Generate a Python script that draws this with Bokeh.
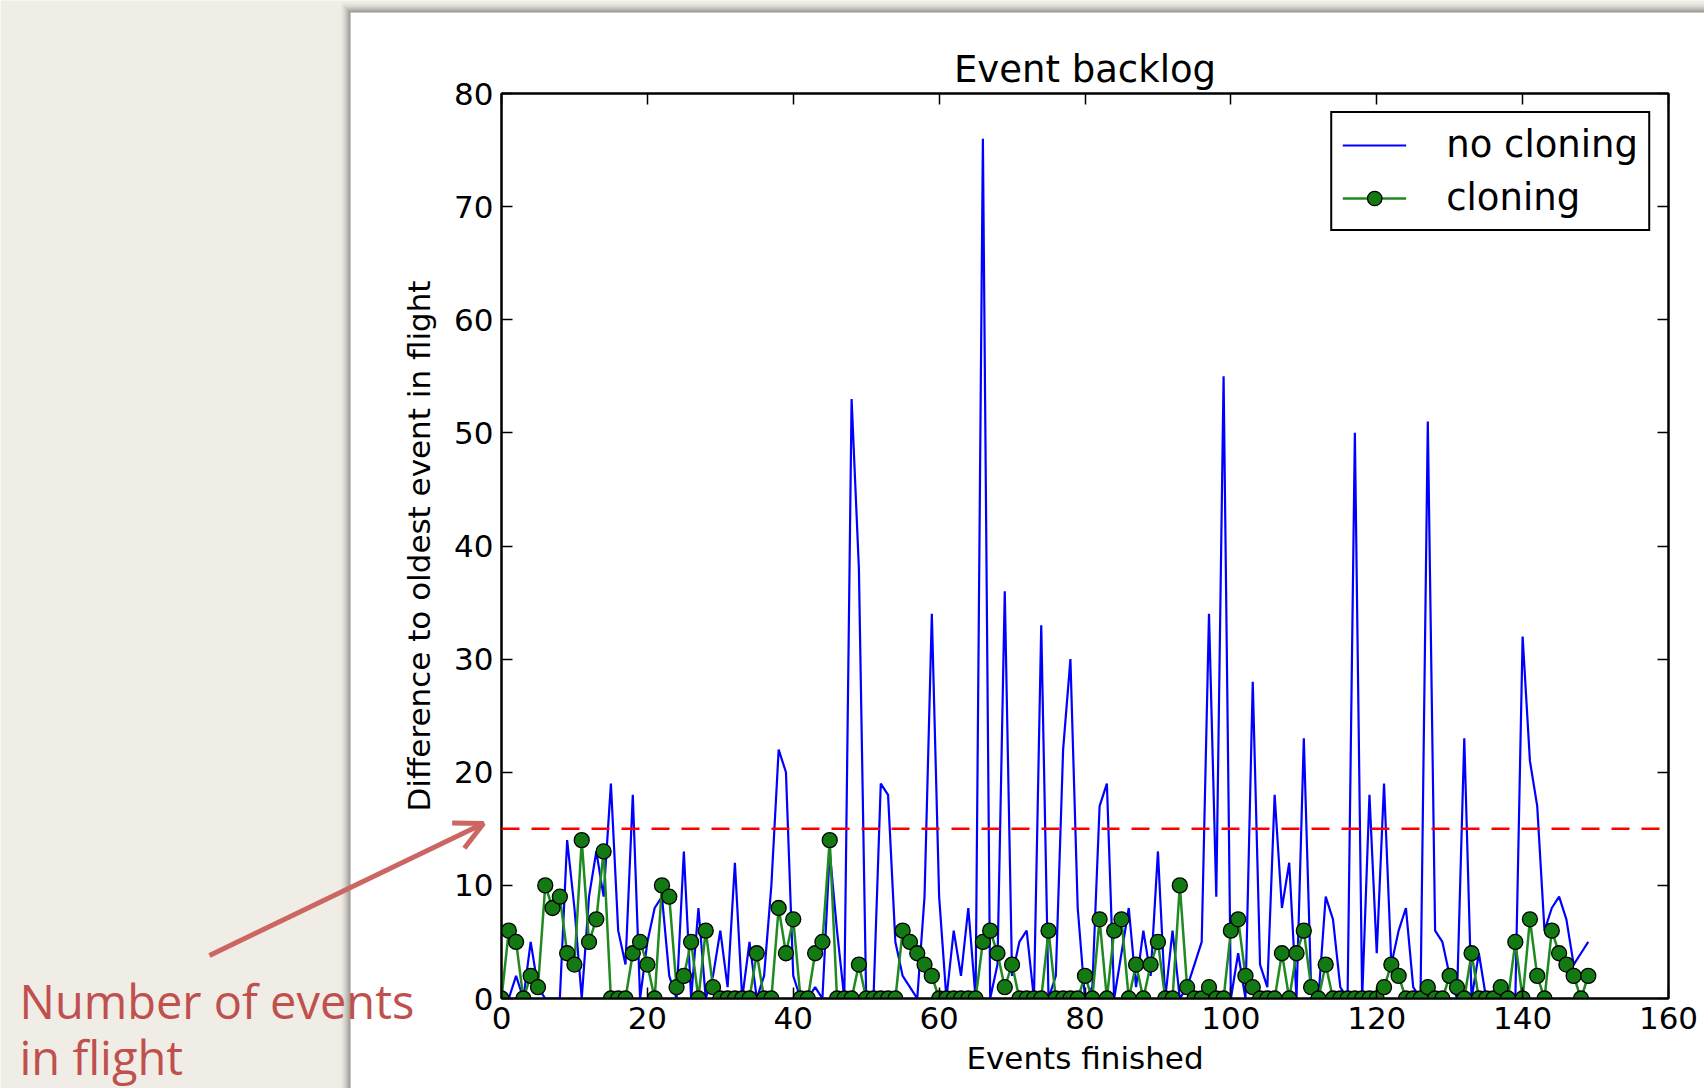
from bokeh.plotting import figure
from bokeh.layouts import column
from bokeh.models import (Range1d, FixedTicker, LinearAxis, Legend, LegendItem,
                          Span, Label, Arrow, OpenHead)
from bokeh.embed import file_html
from bokeh.resources import INLINE

# ---------------- data ----------------
events = list(range(150))
no_cloning = [
    0, 0, 2, 0, 5, 1, 0, 0, 0, 14,
    8, 0, 9, 13, 9, 19, 6, 3, 18, 0,
    5, 8, 9, 2, 0, 13, 0, 8, 0, 2,
    6, 1, 12, 0, 5, 0, 2, 10, 22, 20,
    2, 0, 0, 1, 0, 13, 6, 0, 53, 38,
    0, 0, 19, 18, 5, 2, 1, 0, 9, 34,
    9, 0, 6, 2, 8, 0, 76, 0, 3, 36,
    2, 5, 6, 0, 33, 0, 2, 22, 30, 8,
    0, 1, 17, 19, 0, 4, 8, 1, 6, 2,
    13, 0, 6, 0, 1, 3, 5, 34, 9, 55,
    0, 4, 0, 28, 3, 1, 18, 8, 12, 0,
    23, 1, 0, 9, 7, 1, 0, 50, 0, 18,
    4, 19, 3, 6, 8, 1, 0, 51, 6, 5,
    2, 0, 23, 0, 4, 0, 0, 0, 0, 0,
    32, 21, 17, 6, 8, 9, 7, 3, 4, 5,
]
cloning = [
    0, 6, 5, 0, 2, 1, 10, 8, 9, 4,
    3, 14, 5, 7, 13, 0, 0, 0, 4, 5,
    3, 0, 10, 9, 1, 2, 5, 0, 6, 1,
    0, 0, 0, 0, 0, 4, 0, 0, 8, 4,
    7, 0, 0, 4, 5, 14, 0, 0, 0, 3,
    0, 0, 0, 0, 0, 6, 5, 4, 3, 2,
    0, 0, 0, 0, 0, 0, 5, 6, 4, 1,
    3, 0, 0, 0, 0, 6, 0, 0, 0, 0,
    2, 0, 7, 0, 6, 7, 0, 3, 0, 3,
    5, 0, 0, 10, 1, 0, 0, 1, 0, 0,
    6, 7, 2, 1, 0, 0, 0, 4, 0, 4,
    6, 1, 0, 3, 0, 0, 0, 0, 0, 0,
    0, 1, 3, 2, 0, 0, 0, 1, 0, 0,
    2, 1, 0, 4, 0, 0, 0, 1, 0, 5,
    0, 7, 2, 0, 6, 4, 3, 2, 0, 2,
]
threshold = 15
x_ticks = [0, 20, 40, 60, 80, 100, 120, 140, 160]
y_ticks = [0, 10, 20, 30, 40, 50, 60, 70, 80]
series_names = ["no cloning", "cloning"]
chart_title = "Event backlog"
x_label = "Events finished"
y_label = "Difference to oldest event in flight"
note_lines = ["Number of events", "in flight"]

FONT = "DejaVu Sans"
BEIGE = "#f0ede6"
NOTE_RED = "#c0504d"
ARROW_RED = "#cc6662"
W, H = 1704, 1088

# ---------------- slide background layer ----------------
bg = figure(width=W, height=H, x_range=Range1d(0, W), y_range=Range1d(H, 0),
            output_backend="svg", toolbar_location=None,
            x_axis_type=None, y_axis_type=None, min_border=0,
            border_fill_color=BEIGE, background_fill_color=BEIGE,
            outline_line_color=None)
bg.frame_align = False
bg.xgrid.visible = False
bg.ygrid.visible = False
# soft shadow around the white panel
for (d, c) in [(9, "#e6e3dc"), (7, "#d9d6cf"), (5, "#c6c3bc"), (3, "#aeaca6"), (1, "#959390")]:
    bg.quad(left=[350 - d], right=[W], top=[12 - d], bottom=[H],
            fill_color=c, line_color=None)
bg.quad(left=[350], right=[W], top=[12], bottom=[H], fill_color="white", line_color=None)

for i, line in enumerate(note_lines):
    bg.add_layout(Label(x=19, y=1000 + 56 * i, text=line, text_font="Open Sans",
                        text_font_size="47px", text_color=NOTE_RED,
                        text_baseline="alphabetic", text_align="left"))
bg.add_layout(Arrow(x_start=209, y_start=955, x_end=483, y_end=823,
                    line_color=ARROW_RED, line_width=5,
                    end=OpenHead(size=28, line_color=ARROW_RED, line_width=5)))

# ---------------- chart layer ----------------
p = figure(width=W, height=H,
           x_range=Range1d(0, 160), y_range=Range1d(0, 80),
           output_backend="svg", toolbar_location=None,
           min_border_left=501, min_border_right=36,
           min_border_top=93, min_border_bottom=90,
           border_fill_color=None, background_fill_color="white",
           outline_line_color="black", outline_line_width=2)
p.frame_align = False
p.styles = {"position": "absolute", "left": "0px", "top": "0px"}

r_blue = p.line(events, no_cloning, line_color="#0000ff", line_width=2.2)
r_green_line = p.line(events, cloning, line_color="#1f8a1f", line_width=2.5)
r_green_pts = p.scatter(events, cloning, size=15, fill_color="#137a13",
                        line_color="black", line_width=1.3)

p.add_layout(Span(location=threshold, dimension="width", line_color="#ff0000",
                  line_width=2.5, line_dash="18 12"))

p.title.text = chart_title
p.title.align = "center"
p.title.text_font = FONT
p.title.text_font_size = "37px"
p.title.text_font_style = "normal"
p.title.text_color = "black"
p.title.standoff = 6

for ax in (p.xaxis[0], p.yaxis[0]):
    ax.major_label_text_font = FONT
    ax.major_label_text_font_size = "31px"
    ax.major_label_text_color = "black"
    ax.axis_label_text_font = FONT
    ax.axis_label_text_font_size = "31px"
    ax.axis_label_text_font_style = "normal"
    ax.axis_label_text_color = "black"
    ax.major_tick_in = 11
    ax.major_tick_out = 0
    ax.major_tick_line_width = 1.5
    ax.minor_tick_line_color = None
    ax.axis_line_color = "black"
    ax.axis_line_width = 2
    ax.major_label_standoff = 8

p.xaxis[0].ticker = FixedTicker(ticks=x_ticks)
p.yaxis[0].ticker = FixedTicker(ticks=y_ticks)
p.xaxis[0].axis_label = x_label
p.yaxis[0].axis_label = y_label
p.xaxis[0].axis_label_standoff = 8
p.yaxis[0].axis_label_standoff = 14

for loc, ticks in (("above", x_ticks), ("right", y_ticks)):
    ax = LinearAxis(ticker=FixedTicker(ticks=ticks))
    ax.major_label_overrides = {t: "" for t in ticks}
    ax.major_label_text_font_size = "0px"
    ax.major_label_standoff = 0
    ax.major_tick_in = 11
    ax.major_tick_out = 0
    ax.major_tick_line_width = 1.5
    ax.minor_tick_line_color = None
    ax.axis_line_color = "black"
    ax.axis_line_width = 2
    p.add_layout(ax, loc)

p.xgrid.visible = False
p.ygrid.visible = False

legend = Legend(items=[
    LegendItem(label=series_names[0], renderers=[r_blue]),
    LegendItem(label=series_names[1], renderers=[r_green_line, r_green_pts]),
], location="top_right")
legend.margin = 18
legend.padding = 10
legend.spacing = 10
legend.glyph_width = 64
legend.glyph_height = 36
legend.label_height = 36
legend.label_standoff = 40
legend.label_text_font = FONT
legend.label_text_font_size = "37px"
legend.label_text_color = "black"
legend.border_line_color = "black"
legend.border_line_width = 2
legend.border_line_alpha = 1
legend.background_fill_alpha = 1
p.add_layout(legend, "center")

page = column(bg, p)
open("out.html", "w").write(file_html(page, INLINE))
